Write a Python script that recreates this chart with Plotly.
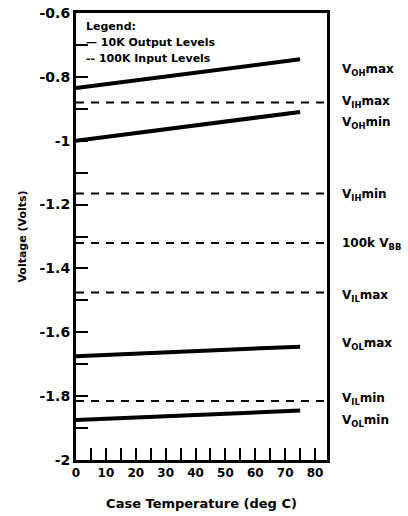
import plotly.graph_objects as go

# ---- data ----
temp_c = [0, 75]                      # case temperature (deg C) for 10K output lines
temp_full = [0, 84]                   # span for 100K input (flat) levels
voh_max = [-0.835, -0.745]
voh_min = [-1.0, -0.91]
vol_max = [-1.675, -1.645]
vol_min = [-1.875, -1.845]

vih_max = -0.88
vih_min = -1.165
vbb_100k = -1.32
vil_max = -1.475
vil_min = -1.815

y_tick_vals = [-2.0, -1.8, -1.6, -1.4, -1.2, -1.0, -0.8, -0.6]
y_tick_text = ["-2", "-1.8", "-1.6", "-1.4", "-1.2", "-1", "-0.8", "-0.6"]
x_tick_vals = [0, 10, 20, 30, 40, 50, 60, 70, 80]
x_tick_text = ["0", "10", "20", "30", "40", "50", "60", "70", "80"]

right_labels = [
    "V<sub>OH</sub>max", "V<sub>IH</sub>max", "V<sub>OH</sub>min",
    "V<sub>IH</sub>min", "100k V<sub>BB</sub>", "V<sub>IL</sub>max",
    "V<sub>OL</sub>max", "V<sub>IL</sub>min", "V<sub>OL</sub>min",
]
right_label_y = [-0.778, -0.878, -0.944, -1.169, -1.325, -1.4875, -1.6375, -1.809, -1.878]

legend_lines = ["Legend:", "— 10K Output Levels", "-- 100K Input Levels"]

FONT = "DejaVu Sans"
BLACK = "#000000"

fig = go.Figure()

for series in [voh_max, voh_min, vol_max, vol_min]:
    fig.add_trace(go.Scatter(x=temp_c, y=series, mode="lines",
                             line=dict(color=BLACK, width=4), showlegend=False,
                             hoverinfo="skip"))

for lvl in [vih_max, vih_min, vbb_100k, vil_max, vil_min]:
    fig.add_trace(go.Scatter(x=temp_full, y=[lvl, lvl], mode="lines",
                             line=dict(color=BLACK, width=2, dash="8px,7px"),
                             showlegend=False, hoverinfo="skip"))

annotations = []
for txt, yv in zip(right_labels, right_label_y):
    annotations.append(dict(x=1, xref="paper", y=yv, yref="y", text=txt,
                            xanchor="left", yanchor="middle", xshift=13,
                            showarrow=False,
                            font=dict(family=FONT, size=12, color=BLACK, weight="bold")))

for i, txt in enumerate(legend_lines):
    annotations.append(dict(
        x=0.0, xref="paper", y=1, yref="paper", text=txt,
        xanchor="left", yanchor="middle", showarrow=False,
        xshift=8, yshift=-13 - 16 * i,
        font=dict(family=FONT, size=11, color=BLACK, weight="bold")))

fig.update_layout(
    width=408, height=516,
    margin=dict(l=76, r=81, t=13, b=56),
    paper_bgcolor="white", plot_bgcolor="white",
    font=dict(family=FONT, color=BLACK),
    annotations=annotations,
    showlegend=False,
    hovermode=False,
)

fig.update_xaxes(
    range=[0, 84], showgrid=False, zeroline=False, automargin=False,
    showline=True, linecolor=BLACK, linewidth=3, mirror=True,
    tickmode="array", tickvals=x_tick_vals, ticktext=x_tick_text,
    ticks="inside", ticklen=12, tickwidth=2, tickcolor=BLACK,
    ticklabeloverflow="allow",
    minor=dict(dtick=5, tick0=0, ticks="inside", ticklen=12, tickwidth=2, tickcolor=BLACK),
    tickfont=dict(family=FONT, size=12, color=BLACK, weight="bold"),
    title=dict(text="Case Temperature (deg C)", standoff=20,
               font=dict(family=FONT, size=13, color=BLACK, weight="bold")),
)

fig.update_yaxes(
    range=[-2, -0.6], showgrid=False, zeroline=False, automargin=False,
    showline=True, linecolor=BLACK, linewidth=3, mirror=True,
    tickmode="array", tickvals=y_tick_vals, ticktext=y_tick_text,
    ticks="inside", ticklen=12, tickwidth=2, tickcolor=BLACK,
    ticklabeloverflow="allow",
    minor=dict(dtick=0.1, tick0=-2, ticks="inside", ticklen=12, tickwidth=2, tickcolor=BLACK),
    tickfont=dict(family=FONT, size=14, color=BLACK, weight="bold"),
    title=dict(text="Voltage (Volts)", standoff=11,
               font=dict(family=FONT, size=11, color=BLACK, weight="bold")),
)

fig.write_html("out.html", config={"displayModeBar": False},
               post_script="document.body.style.margin='0px';")
